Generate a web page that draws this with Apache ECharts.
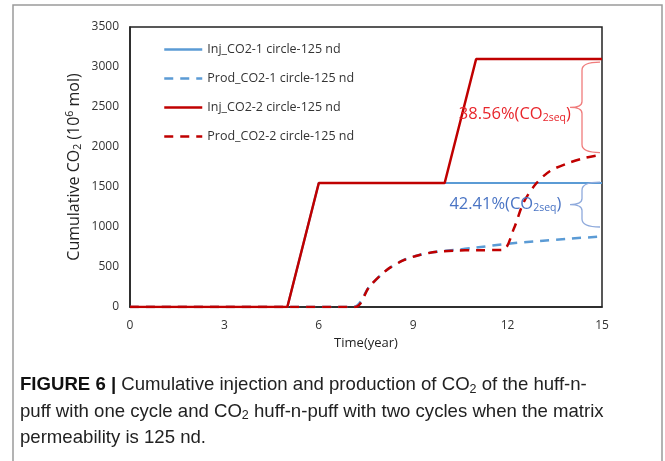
<!DOCTYPE html>
<html><head><meta charset="utf-8">
<script src="https://cdn.jsdelivr.net/npm/echarts@6/dist/echarts.min.js"></script>
<style>html,body{margin:0;padding:0;background:#fff}#c{width:665px;height:461px}</style>
</head><body><div id="c"></div>
<script>
// ---- data ----
var xTicks = [0, 3, 6, 9, 12, 15];
var yTicks = [0, 500, 1000, 1500, 2000, 2500, 3000, 3500];
var seriesNames = ['Inj_CO2-1 circle-125 nd', 'Prod_CO2-1 circle-125 nd', 'Inj_CO2-2 circle-125 nd', 'Prod_CO2-2 circle-125 nd'];
var injCO2_1 = [[0, 0], [5, 0], [6, 1550], [10, 1550], [15, 1550]];
var prodCO2_1 = [[0, 0], [7.1, 0], [7.6, 250], [8.15, 460], [8.7, 588], [9.2, 650], [9.75, 690], [10.3, 712], [11, 742], [12, 790], [13, 825], [14, 855], [15, 882]];
var injCO2_2 = [[0, 0], [5, 0], [6, 1550], [10, 1550], [11, 3100], [15, 3100]];
var prodCO2_2 = [[0, 0], [7.15, 0], [7.6, 250], [8.15, 460], [8.7, 585], [9.2, 650], [9.75, 690], [10.3, 705], [11, 710], [11.85, 715], [12.2, 980], [12.5, 1300], [12.9, 1540], [13.35, 1700], [13.9, 1795], [14.4, 1858], [15, 1905]];
var seqLabels = ['38.56%', '42.41%'];
var seqText = [[10.45, 2415], [10.15, 1290]];      // text anchor (year, value)
var seqBrace = [[15, 3060, 1930], [15, 1560, 1000]]; // brace end x, top value, bottom value

var cRedLine = '#c00000', cBlueLine = '#5b9bd5';
var cRedTxt = '#e8262c', cBlueTxt = '#4a74c4';
var cRedBrace = '#f07c7c', cBlueBrace = '#8faadc';
var capFont = 'Liberation Sans';

var chart = echarts.init(document.getElementById('c'), null, {renderer: 'canvas'});

function braceItem(color) {
  return function (params, api) {
    var pTop = api.coord([api.value(0), api.value(1)]);
    var pBot = api.coord([api.value(0), api.value(2)]);
    var xe = pTop[0] - 2, xs = xe - 18, xt = xs - 12;
    var yt = pTop[1], yb = pBot[1], ym = (yt + yb) / 2;
    var d = 'M' + xe + ' ' + yt + ' Q' + xs + ' ' + yt + ' ' + xs + ' ' + (yt + 8) +
      ' L' + xs + ' ' + (ym - 6) + ' Q' + xs + ' ' + ym + ' ' + xt + ' ' + ym +
      ' Q' + xs + ' ' + ym + ' ' + xs + ' ' + (ym + 6) +
      ' L' + xs + ' ' + (yb - 8) + ' Q' + xs + ' ' + yb + ' ' + xe + ' ' + yb;
    return {type: 'path', shape: {pathData: d}, style: {fill: null, stroke: color, lineWidth: 1.3}};
  };
}
function textItem(label, color) {
  return function (params, api) {
    var p = api.coord([api.value(0), api.value(1)]);
    return {
      type: 'text', x: p[0], y: p[1],
      style: {
        text: label + '(CO{s|2seq})',
        fill: color, fontFamily: 'Open Sans', fontSize: 16.5,
        verticalAlign: 'middle', align: 'left',
        rich: {s: {fontSize: 10.5, fill: color, fontFamily: 'Open Sans', padding: [9, 0, 0, 0]}}
      }
    };
  };
}
function plainNum(v) { return String(v); }

var option = {
  animation: false,
  backgroundColor: '#fff',
  grid: {left: 130, right: 63, top: 27, bottom: 154, show: true, borderColor: '#222', borderWidth: 1.5, backgroundColor: 'transparent'},
  legend: {
    data: seriesNames, orient: 'vertical', left: 158, top: 38,
    itemWidth: 38, itemHeight: 14, itemGap: 16,
    itemStyle: {opacity: 0},
    lineStyle: {width: 2.5},
    textStyle: {fontSize: 12.5, color: '#333', fontFamily: 'Open Sans'}
  },
  xAxis: {
    type: 'value', min: xTicks[0], max: xTicks[xTicks.length - 1], interval: 3,
    name: 'Time(year)', nameLocation: 'middle', nameGap: 25,
    nameTextStyle: {fontSize: 13, color: '#222', fontFamily: 'Open Sans'},
    axisLine: {lineStyle: {color: '#222', width: 1.5}}, axisTick: {show: false},
    splitLine: {show: false},
    axisLabel: {color: '#333', fontSize: 12, margin: 13, fontFamily: 'Open Sans', formatter: plainNum}
  },
  yAxis: {
    type: 'value', min: yTicks[0], max: yTicks[yTicks.length - 1], interval: 500,
    name: 'Cumulative CO{s|2} (10{p|6} mol)', nameLocation: 'middle', nameGap: 46,
    nameMoveOverlap: false,
    nameTextStyle: {fontSize: 16, color: '#222', fontFamily: 'Open Sans', padding: [10, 0, 0, 0],
      rich: {s: {fontSize: 10.5, padding: [8, 0, 0, 0], fontFamily: 'Open Sans', color: '#222'},
             p: {fontSize: 10.5, padding: [0, 0, 8, 0], fontFamily: 'Open Sans', color: '#222'}}},
    axisLine: {show: true, lineStyle: {color: '#222', width: 1.5}}, axisTick: {show: false},
    splitLine: {show: false},
    axisLabel: {color: '#333', fontSize: 12, margin: 11, fontFamily: 'Open Sans', formatter: plainNum}
  },
  series: [
    {name: seriesNames[0], type: 'line', data: injCO2_1, showSymbol: false, symbol: 'none', z: 2,
     lineStyle: {color: cBlueLine, width: 2.2}, itemStyle: {color: cBlueLine}},
    {name: seriesNames[1], type: 'line', data: prodCO2_1, showSymbol: false, symbol: 'none', smooth: 0.3, z: 2,
     lineStyle: {color: cBlueLine, width: 2.5, type: [9, 7]}, itemStyle: {color: cBlueLine}},
    {name: seriesNames[2], type: 'line', data: injCO2_2, showSymbol: false, symbol: 'none', z: 3,
     lineStyle: {color: cRedLine, width: 2.5}, itemStyle: {color: cRedLine}},
    {name: seriesNames[3], type: 'line', data: prodCO2_2, showSymbol: false, symbol: 'none', smooth: 0.3, z: 3,
     lineStyle: {color: cRedLine, width: 2.5, type: [9, 7]}, itemStyle: {color: cRedLine}},
    {type: 'custom', renderItem: braceItem(cRedBrace), data: [seqBrace[0]], z: 4, silent: true},
    {type: 'custom', renderItem: braceItem(cBlueBrace), data: [seqBrace[1]], z: 4, silent: true},
    {type: 'custom', renderItem: textItem(seqLabels[0], cRedTxt), data: [seqText[0]], z: 5, silent: true},
    {type: 'custom', renderItem: textItem(seqLabels[1], cBlueTxt), data: [seqText[1]], z: 5, silent: true}
  ],
  graphic: [
    {type: 'rect', shape: {x: 13, y: 5, width: 649, height: 520}, style: {fill: null, stroke: '#9a9a9a', lineWidth: 1.5}, silent: true},
    {type: 'text', left: 20, top: 372, style: {
      text: '{b|FIGURE 6 |} Cumulative injection and production of CO{s|2} of the huff-n-\npuff with one cycle and CO{s|2} huff-n-puff with two cycles when the matrix\npermeability is 125 nd.',
      fontFamily: capFont, fontSize: 18.6, lineHeight: 26.5, fill: '#222',
      rich: {
        b: {fontWeight: 'bold', fontFamily: capFont, fontSize: 18.6, fill: '#111', lineHeight: 26.5},
        s: {fontSize: 12.5, fontFamily: capFont, fill: '#222', padding: [8, 0, 0, 0], lineHeight: 26.5}
      }
    }}
  ]
};
chart.setOption(option);
</script></body></html>
